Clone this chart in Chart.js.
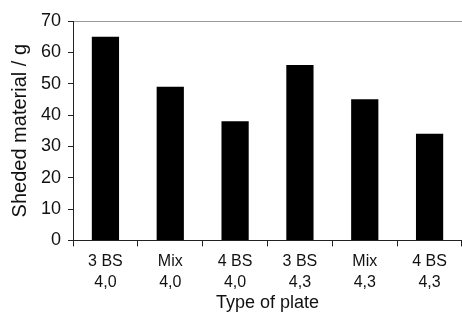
<!DOCTYPE html>
<html>
<head>
<meta charset="utf-8">
<script src="https://cdn.jsdelivr.net/npm/chart.js@4.4.0/dist/chart.umd.min.js"></script>
<style>
  html, body { margin: 0; padding: 0; background: #fff; overflow: hidden; }
  #wrap { width: 462px; height: 320px; }
</style>
</head>
<body>
<div id="wrap"><canvas id="chart_plate"></canvas></div>
<script>
// labels and values
var plates = [['3 BS', '4,0'], ['Mix', '4,0'], ['4 BS', '4,0'], ['3 BS', '4,3'], ['Mix', '4,3'], ['4 BS', '4,3']];
var shedded = [65, 49, 38, 56, 45, 34];
var yMin = 0, yMax = 70, yStep = 10;

var font = "'Liberation Sans', Arial, sans-serif";

var ctx = document.getElementById('chart_plate').getContext('2d');
var plateChart = new Chart(ctx, {
  type: 'bar',
  data: {
    labels: plates,
    datasets: [{
      data: shedded,
      backgroundColor: '#000',
      borderWidth: 0,
      barPercentage: 0.42,
      categoryPercentage: 1
    }]
  },
  options: {
    responsive: true,
    maintainAspectRatio: false,
    animation: false,
    layout: { padding: { top: 21, right: 0, left: 8, bottom: 8 } },
    plugins: { legend: { display: false }, tooltip: { enabled: false } },
    scales: {
      x: {
        grid: { offset: true, drawOnChartArea: false, tickLength: 6, color: '#222', lineWidth: 1 },
        border: { color: '#222', width: 1 },
        ticks: { color: '#111', font: { family: font, size: 16, lineHeight: 1.3 }, padding: 5, maxRotation: 0 },
        title: { display: true, text: 'Type of plate', color: '#111', font: { family: font, size: 18, lineHeight: 1.0 }, padding: { top: -4, bottom: 0 } }
      },
      y: {
        min: yMin,
        max: yMax,
        grid: {
          color: function(c) { return c.tick && c.tick.value === yMax ? '#999' : 'rgba(0,0,0,0)'; },
          tickColor: '#222',
          tickLength: 5
        },
        border: { color: '#222', width: 1 },
        ticks: { stepSize: yStep, color: '#111', font: { family: font, size: 18 }, padding: 7 },
        title: { display: true, text: 'Sheded material / g', color: '#111', font: { family: font, size: 20, lineHeight: 1.2 }, padding: { top: 0, bottom: 2 } }
      }
    }
  }
});
</script>
</body>
</html>
